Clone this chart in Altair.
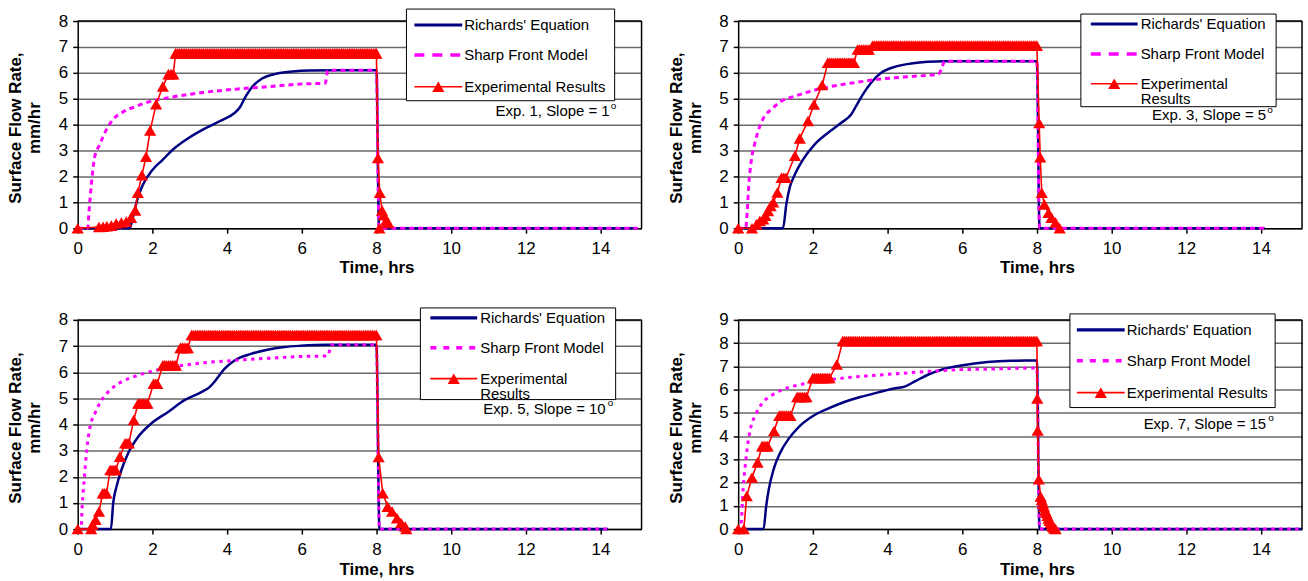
import altair as alt
import pandas as pd

FONT = "Liberation Sans, Arial, Helvetica, sans-serif"
NAVY = "#000080"
MAGENTA = "#FF00FF"
RED = "#FF0000"
GRID = "#6a6a6a"

X_MAX = 15.1
X_TICKS = [0, 2, 4, 6, 8, 10, 12, 14]
Y_TITLE = ["Surface Flow Rate,", "mm/hr"]
X_TITLE = "Time, hrs"
SERIES = ["Richards' Equation", "Sharp Front Model", "Experimental Results"]

# ---------------- Exp. 1, slope 1 deg ----------------
R1_T = [0, 1.39, 1.45, 1.52, 1.61, 1.75, 2.0, 2.28, 2.55, 2.9, 3.35, 3.8, 4.2, 4.33, 4.5, 4.68, 4.95, 5.3, 5.75, 6.2, 7.0, 8.0, 8.07, 15.0]
R1_V = [0, 0, 0.25, 0.67, 1.18, 1.69, 2.25, 2.65, 3.04, 3.42, 3.81, 4.13, 4.45, 4.64, 5.09, 5.47, 5.79, 5.96, 6.05, 6.09, 6.1, 6.1, 0, 0]
S1_T = [0, 0.27, 0.3, 0.37, 0.45, 0.59, 0.77, 0.94, 1.21, 1.57, 2.0, 2.46, 3.35, 4.24, 5.13, 6.0, 6.63, 6.7, 8.0, 8.07, 15.0]
S1_V = [0, 0, 0.6, 1.76, 2.72, 3.23, 3.81, 4.19, 4.49, 4.71, 4.92, 5.05, 5.24, 5.37, 5.47, 5.57, 5.6, 6.1, 6.1, 0, 0]
E1_V = [0, 0.05, 0.06, 0.08, 0.1, 0.18, 0.22, 0.26, 0.41, 0.69, 1.37, 2.05, 2.76, 3.77, 4.79, 5.47, 5.95, 6.75,
        2.71, 1.37, 0.69, 0.5, 0.3, 0.2, 0]
E1_T = [[0], [0.57], [0.68], [0.78], [0.9], [1.03], [1.17], [1.3], [1.43], [1.54], [1.61], [1.72], [1.83], [1.94],
        [2.1], [2.28], [2.43, 2.5, 2.56],
        [2.62, 2.67, 2.72, 2.77, 2.82, 2.87, 2.92, 2.97,
         3.02, 3.07, 3.12, 3.17, 3.22, 3.27, 3.32, 3.37, 3.42, 3.47, 3.52, 3.57, 3.62, 3.67, 3.72, 3.77, 3.82, 3.87, 3.92, 3.97,
         4.02, 4.07, 4.12, 4.17, 4.22, 4.27, 4.32, 4.37, 4.42, 4.47, 4.52, 4.57, 4.62, 4.67, 4.72, 4.77, 4.82, 4.87, 4.92, 4.97,
         5.02, 5.07, 5.12, 5.17, 5.22, 5.27, 5.32, 5.37, 5.42, 5.47, 5.52, 5.57, 5.62, 5.67, 5.72, 5.77, 5.82, 5.87, 5.92, 5.97,
         6.02, 6.07, 6.12, 6.17, 6.22, 6.27, 6.32, 6.37, 6.42, 6.47, 6.52, 6.57, 6.62, 6.67, 6.72, 6.77, 6.82, 6.87, 6.92, 6.97,
         7.02, 7.07, 7.12, 7.17, 7.22, 7.27, 7.32, 7.37, 7.42, 7.47, 7.52, 7.57, 7.62, 7.67, 7.72, 7.77, 7.82, 7.87, 7.92, 7.97,
         8.0],
        [8.04], [8.09], [8.15], [8.2], [8.26], [8.32], [8.08]]

# ---------------- Exp. 3, slope 5 deg ----------------
R2_T = [0, 1.2, 1.29, 1.38, 1.52, 1.74, 2.05, 2.41, 2.76, 3.03, 3.16, 3.34, 3.56, 3.83, 4.19, 4.63, 5.08, 5.53, 8.0, 8.07, 14.1]
R2_V = [0, 0, 0.93, 1.57, 2.08, 2.66, 3.24, 3.69, 4.07, 4.4, 4.72, 5.17, 5.62, 6.0, 6.23, 6.36, 6.43, 6.45, 6.45, 0, 0]
S2_T = [0, 0.2, 0.24, 0.28, 0.35, 0.45, 0.58, 0.71, 0.89, 1.16, 1.52, 1.96, 2.41, 3.3, 3.74, 4.19, 4.63, 5.35, 5.44, 5.53, 8.0, 8.07, 14.1]
S2_V = [0, 0, 0.6, 1.6, 2.6, 3.3, 3.95, 4.33, 4.59, 4.91, 5.1, 5.3, 5.45, 5.66, 5.75, 5.81, 5.86, 5.94, 6.13, 6.45, 6.45, 0, 0]
E2_V = [0, 0, 0.15, 0.28, 0.35, 0.48, 0.67, 0.86, 1.0, 1.38, 1.95, 2.8, 3.47, 4.14, 4.78, 5.53, 6.39, 6.9, 7.05,
        4.06, 2.74, 1.37, 0.92, 0.6, 0.41, 0.22, 0]
E2_T = [[0], [0.37], [0.49], [0.58], [0.67], [0.73], [0.8], [0.87], [0.94], [1.05], [1.16, 1.22, 1.28], [1.52],
        [1.65], [1.87], [2.03], [2.25],
        [2.4, 2.45, 2.5, 2.55, 2.6, 2.65, 2.7, 2.75, 2.8, 2.85, 2.9, 2.95, 3.0, 3.05, 3.1],
        [3.2, 3.25, 3.3, 3.35, 3.4, 3.45, 3.5],
        [3.6, 3.65, 3.7, 3.75, 3.8, 3.85, 3.9, 3.95,
         4.0, 4.05, 4.1, 4.15, 4.2, 4.25, 4.3, 4.35, 4.4, 4.45, 4.5, 4.55, 4.6, 4.65, 4.7, 4.75, 4.8, 4.85, 4.9, 4.95,
         5.0, 5.05, 5.1, 5.15, 5.2, 5.25, 5.3, 5.35, 5.4, 5.45, 5.5, 5.55, 5.6, 5.65, 5.7, 5.75, 5.8, 5.85, 5.9, 5.95,
         6.0, 6.05, 6.1, 6.15, 6.2, 6.25, 6.3, 6.35, 6.4, 6.45, 6.5, 6.55, 6.6, 6.65, 6.7, 6.75, 6.8, 6.85, 6.9, 6.95,
         7.0, 7.05, 7.1, 7.15, 7.2, 7.25, 7.3, 7.35, 7.4, 7.45, 7.5, 7.55, 7.6, 7.65, 7.7, 7.75, 7.8, 7.85, 7.9, 7.95,
         8.0],
        [8.06], [8.09], [8.13], [8.2], [8.31], [8.39], [8.5], [8.61]]

# ---------------- Exp. 5, slope 10 deg ----------------
R3_T = [0, 0.89, 0.95, 1.04, 1.17, 1.35, 1.62, 1.97, 2.42, 2.86, 3.31, 3.53, 3.66, 3.93, 4.2, 4.64, 5.08, 5.53, 5.97, 6.68, 8.0, 8.08, 14.2]
R3_V = [0, 0, 0.99, 1.63, 2.26, 2.9, 3.53, 4.04, 4.48, 4.93, 5.24, 5.43, 5.63, 6.13, 6.45, 6.7, 6.86, 6.96, 7.01, 7.05, 7.05, 0, 0]
S3_T = [0, 0.09, 0.12, 0.18, 0.24, 0.33, 0.46, 0.64, 0.91, 1.17, 1.53, 1.97, 2.42, 3.31, 4.2, 5.08, 5.97, 6.69, 6.8, 8.0, 8.08, 14.2]
S3_V = [0, 0, 0.86, 2.0, 3.0, 3.9, 4.42, 4.93, 5.37, 5.63, 5.84, 6.03, 6.17, 6.35, 6.45, 6.53, 6.6, 6.62, 7.05, 7.05, 0, 0]
E3_V = [0, 0, 0.17, 0.36, 0.67, 1.37, 2.26, 2.77, 3.28, 4.17, 4.8, 5.56, 6.26, 6.93, 7.42,
        2.76, 1.37, 0.86, 0.67, 0.42, 0.23, 0.1, 0]
E3_T = [[0], [0.36], [0.4], [0.48], [0.57], [0.67, 0.72, 0.77], [0.87, 0.92, 0.97, 1.02], [1.13], [1.27, 1.32, 1.37],
        [1.5], [1.62, 1.67, 1.72, 1.77, 1.82, 1.87], [2.03, 2.08, 2.13],
        [2.28, 2.33, 2.38, 2.43, 2.48, 2.53, 2.58, 2.63], [2.75, 2.8, 2.85, 2.9, 2.95],
        [3.05, 3.1, 3.15, 3.2, 3.25, 3.3, 3.35, 3.4, 3.45, 3.5, 3.55, 3.6, 3.65, 3.7, 3.75, 3.8, 3.85, 3.9, 3.95,
         4.0, 4.05, 4.1, 4.15, 4.2, 4.25, 4.3, 4.35, 4.4, 4.45, 4.5, 4.55, 4.6, 4.65, 4.7, 4.75, 4.8, 4.85, 4.9, 4.95,
         5.0, 5.05, 5.1, 5.15, 5.2, 5.25, 5.3, 5.35, 5.4, 5.45, 5.5, 5.55, 5.6, 5.65, 5.7, 5.75, 5.8, 5.85, 5.9, 5.95,
         6.0, 6.05, 6.1, 6.15, 6.2, 6.25, 6.3, 6.35, 6.4, 6.45, 6.5, 6.55, 6.6, 6.65, 6.7, 6.75, 6.8, 6.85, 6.9, 6.95,
         7.0, 7.05, 7.1, 7.15, 7.2, 7.25, 7.3, 7.35, 7.4, 7.45, 7.5, 7.55, 7.6, 7.65, 7.7, 7.75, 7.8, 7.85, 7.9, 7.95,
         8.0],
        [8.06], [8.17], [8.3], [8.42], [8.55], [8.66], [8.77], [8.8]]

# ---------------- Exp. 7, slope 15 deg ----------------
R4_T = [0, 0.68, 0.75, 0.82, 0.95, 1.13, 1.35, 1.62, 1.97, 2.42, 2.86, 3.31, 3.75, 4.2, 4.46, 4.73, 5.08, 5.53, 5.97, 6.68, 7.3, 8.0, 8.07, 15.1]
R4_V = [0, 0, 0.99, 1.71, 2.58, 3.3, 3.88, 4.39, 4.83, 5.19, 5.48, 5.7, 5.88, 6.06, 6.13, 6.35, 6.64, 6.9, 7.04, 7.19, 7.24, 7.25, 0, 0]
S4_T = [0, 0.06, 0.09, 0.12, 0.18, 0.24, 0.33, 0.46, 0.64, 0.91, 1.17, 1.53, 1.97, 2.42, 3.31, 4.2, 5.08, 5.97, 6.68, 8.0, 8.07, 15.1]
S4_V = [0, 0, 0.41, 1.42, 2.58, 3.45, 4.32, 4.9, 5.41, 5.77, 5.99, 6.17, 6.3, 6.42, 6.57, 6.68, 6.78, 6.86, 6.88, 6.93, 0, 0]
E4_V = [0, 0, 1.42, 2.22, 2.87, 3.57, 4.22, 4.88, 5.68, 6.5, 7.08, 8.09,
        5.62, 4.24, 2.14, 1.4, 1.25, 1.1, 0.95, 0.8, 0.7, 0.58, 0.46, 0.36, 0.27, 0.18, 0.1, 0.04, 0]
E4_T = [[0], [0.15], [0.23], [0.37], [0.52], [0.64, 0.69, 0.74, 0.79], [0.96],
        [1.1, 1.15, 1.2, 1.25, 1.3, 1.35, 1.4], [1.58, 1.63, 1.68, 1.73, 1.78, 1.83],
        [2.0, 2.05, 2.1, 2.15, 2.2, 2.25, 2.3, 2.35, 2.4, 2.45], [2.64],
        [2.8, 2.85, 2.9, 2.95,
         3.0, 3.05, 3.1, 3.15, 3.2, 3.25, 3.3, 3.35, 3.4, 3.45, 3.5, 3.55, 3.6, 3.65, 3.7, 3.75, 3.8, 3.85, 3.9, 3.95,
         4.0, 4.05, 4.1, 4.15, 4.2, 4.25, 4.3, 4.35, 4.4, 4.45, 4.5, 4.55, 4.6, 4.65, 4.7, 4.75, 4.8, 4.85, 4.9, 4.95,
         5.0, 5.05, 5.1, 5.15, 5.2, 5.25, 5.3, 5.35, 5.4, 5.45, 5.5, 5.55, 5.6, 5.65, 5.7, 5.75, 5.8, 5.85, 5.9, 5.95,
         6.0, 6.05, 6.1, 6.15, 6.2, 6.25, 6.3, 6.35, 6.4, 6.45, 6.5, 6.55, 6.6, 6.65, 6.7, 6.75, 6.8, 6.85, 6.9, 6.95,
         7.0, 7.05, 7.1, 7.15, 7.2, 7.25, 7.3, 7.35, 7.4, 7.45, 7.5, 7.55, 7.6, 7.65, 7.7, 7.75, 7.8, 7.85, 7.9, 7.95,
         8.0],
        [8.01], [8.02], [8.05], [8.1], [8.13], [8.16], [8.19], [8.22], [8.25], [8.28], [8.31], [8.34], [8.37], [8.4],
        [8.43], [8.46], [8.5]]

# ---------------- layout of each panel (pixels inside the plot area) ----------------
L1 = dict(box=(330, 539, -12, 80), rows=(4, 34, 66), sample=(338, 386), tx=388,
          exp_lines=[("Experimental Results", 66)], ann=("Exp. 1, Slope = 1", 534, 95, 535, 88.5),
          ldash=[10, 8], pdash=[5, 4], xlabpad=7, xtitle_y=39)
L2 = dict(box=(344, 540, -7, 86), rows=(3, 33, 63), sample=(354, 401), tx=404,
          exp_lines=[("Experimental", 63), ("Results", 78)], ann=("Exp. 3, Slope = 5", 530, 99, 531, 92),
          ldash=[10, 8], pdash=[5, 4], xlabpad=7, xtitle_y=39)
L3 = dict(box=(344, 540, -12, 80), rows=(-2, 28, 59), sample=(354, 401), tx=404,
          exp_lines=[("Experimental", 59), ("Results", 74)], ann=("Exp. 5, Slope = 10", 530, 94, 532, 86.5),
          ldash=[6, 7], pdash=[3.5, 4.5], xlabpad=8, xtitle_y=41)
L4 = dict(box=(333, 539, -6, 88), rows=(10, 41, 73), sample=(340, 388), tx=390,
          exp_lines=[("Experimental Results", 73)], ann=("Exp. 7, Slope = 15", 530, 109.5, 532, 101.5),
          ldash=[6, 7], pdash=[3.5, 4.5], xlabpad=8, xtitle_y=41)


def panel(rt, rv, st, sv, ev, et, ymax, w, h, lay):
    rich = pd.DataFrame({"t": rt, "v": rv})
    sharp = pd.DataFrame({"t": st, "v": sv})
    rows = []
    for v, ts in zip(ev, et):
        for t in ts:
            rows.append({"t": t, "v": v, "o": len(rows)})
    exp = pd.DataFrame(rows)
    one = pd.DataFrame({"k": [0]})

    xenc = alt.X("t:Q", scale=alt.Scale(domain=[0, X_MAX], nice=False, zero=False),
                 axis=alt.Axis(values=X_TICKS, title=X_TITLE, grid=False, labelPadding=lay["xlabpad"],
                               titleX=300, titleY=lay["xtitle_y"], titleBaseline="middle", titleAlign="center"))
    yenc = alt.Y("v:Q", scale=alt.Scale(domain=[0, ymax], nice=False),
                 axis=alt.Axis(values=list(range(ymax + 1)), title=Y_TITLE, grid=True, labelPadding=5,
                               titleX=-57, titleY=h / 2 + 3, titleAngle=270, titleBaseline="alphabetic",
                               titleAlign="center"))

    layers = [
        alt.Chart(rich).mark_line(color=NAVY, strokeWidth=2.5, interpolate="monotone").encode(x=xenc, y=yenc),
        alt.Chart(sharp).mark_line(color=MAGENTA, strokeWidth=3, strokeDash=lay["pdash"],
                                   interpolate="monotone").encode(x=xenc, y=yenc),
        alt.Chart(exp).mark_line(color=RED, strokeWidth=1.6).encode(x=xenc, y=yenc, order="o:Q"),
        alt.Chart(exp).mark_point(shape="triangle-up", filled=True, color=RED, size=150, opacity=1).encode(
            x=xenc, y=yenc),
        alt.Chart(one).mark_rule(color="black", strokeWidth=1.5).encode(
            x=alt.value(0), x2=alt.value(w), y=alt.value(0)),
        alt.Chart(one).mark_rule(color="black", strokeWidth=1.5).encode(
            x=alt.value(w), y=alt.value(0), y2=alt.value(h)),
    ]
    bx0, bx1, by0, by1 = lay["box"]
    layers.append(alt.Chart(one).mark_rect(fill="white", stroke="black", strokeWidth=1).encode(
        x=alt.value(bx0), x2=alt.value(bx1), y=alt.value(by0), y2=alt.value(by1)))
    sx0, sx1 = lay["sample"]
    r0, r1, r2 = lay["rows"]
    layers += [
        alt.Chart(one).mark_rule(color=NAVY, strokeWidth=3.2).encode(
            x=alt.value(sx0), x2=alt.value(sx1), y=alt.value(r0)),
        alt.Chart(one).mark_rule(color=MAGENTA, strokeWidth=3.5, strokeDash=lay["ldash"]).encode(
            x=alt.value(sx0), x2=alt.value(sx1), y=alt.value(r1)),
        alt.Chart(one).mark_rule(color=RED, strokeWidth=1.6).encode(
            x=alt.value(sx0), x2=alt.value(sx1), y=alt.value(r2)),
        alt.Chart(one).mark_point(shape="triangle-up", filled=True, color=RED, size=150, opacity=1).encode(
            x=alt.value((sx0 + sx1) / 2), y=alt.value(r2)),
    ]
    labels = [(SERIES[0], r0), (SERIES[1], r1)] + lay["exp_lines"]
    for txt, yy in labels:
        layers.append(alt.Chart(one).mark_text(align="left", baseline="middle", font=FONT, fontSize=15,
                                               color="black").encode(
            x=alt.value(lay["tx"]), y=alt.value(yy), text=alt.value(txt)))
    atxt, ax, ay, ox, oy = lay["ann"]
    layers.append(alt.Chart(one).mark_text(align="right", baseline="alphabetic", font=FONT, fontSize=15,
                                           color="black").encode(
        x=alt.value(ax), y=alt.value(ay), text=alt.value(atxt)))
    layers.append(alt.Chart(one).mark_text(align="left", baseline="alphabetic", font=FONT, fontSize=10,
                                           color="black").encode(
        x=alt.value(ox), y=alt.value(oy), text=alt.value("o")))
    return alt.layer(*layers).properties(width=w, height=h)


p1 = panel(R1_T, R1_V, S1_T, S1_V, E1_V, E1_T, 8, 566, 208, L1)
p2 = panel(R2_T, R2_V, S2_T, S2_V, E2_V, E2_T, 8, 566, 208, L2)
p3 = panel(R3_T, R3_V, S3_T, S3_V, E3_V, E3_T, 8, 566, 210, L3)
p4 = panel(R4_T, R4_V, S4_T, S4_V, E4_V, E4_T, 9, 566, 210, L4)

chart = alt.concat(p1, p2, p3, p4, columns=2, spacing={"row": 92, "column": 97}, bounds="flush").properties(
    padding={"left": 7, "top": 7, "right": 0, "bottom": 0},
    background="white",
).configure_view(strokeWidth=0).configure_axis(
    labelFont=FONT, labelFontSize=17, labelColor="black", labelFlush=False, labelOverlap=False,
    titleFont=FONT, titleFontSize=17, titleFontWeight="bold", titleColor="black", titleLineHeight=19,
    domainColor="black", domainWidth=1.5, tickColor="black", tickSize=5, tickWidth=1.5,
    gridColor=GRID, gridWidth=1.5,
)

chart.save("out.html", embed_options={"renderer": "svg", "actions": False})
